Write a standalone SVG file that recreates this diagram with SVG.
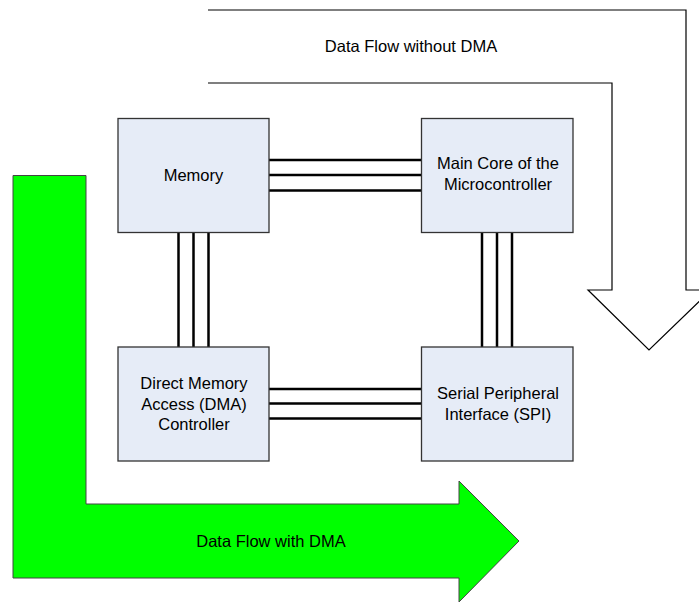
<svg xmlns="http://www.w3.org/2000/svg" width="699" height="603" viewBox="0 0 699 603">
  <style>
    .box { fill: #E6ECF7; stroke: #333; stroke-width: 1.3; }
    .bus { stroke: #000; stroke-width: 2.5; fill: none; }
    .lbl { font-family: "Liberation Sans", Arial, sans-serif; font-size: 16.5px; fill: #000; text-anchor: middle; }
  </style>
  <rect width="699" height="603" fill="#fff"/>

  <!-- Outline arrow: data flow without DMA -->
  <g id="flow-without-dma">
    <path d="M208,10 H686 V290 H711 L649,350 L588,290 H612 V83 H208" fill="#fff" stroke="#000" stroke-width="1.2"/>
    <text class="lbl" x="411" y="52">Data Flow without DMA</text>
  </g>

  <!-- Filled arrow: data flow with DMA -->
  <g id="flow-with-dma">
    <path d="M13,175.5 H86 V504 H459 V481 L519,541 L459,602 V578 H13 Z" fill="#00FF00" stroke="#444" stroke-width="1"/>
    <text class="lbl" x="271" y="547">Data Flow with DMA</text>
  </g>

  <!-- Bus connectors -->
  <g id="connectors">
    <path class="bus" d="M269,160 H421 M269,175 H421 M269,190.5 H421"/>
    <path class="bus" d="M269,389 H421 M269,403.5 H421 M269,418.5 H421"/>
    <path class="bus" d="M178.5,232 V347 M193.5,232 V347 M208.5,232 V347"/>
    <path class="bus" d="M482,232 V347 M497,232 V347 M512,232 V347"/>
  </g>

  <g id="memory">
    <rect class="box" x="118" y="118.5" width="151" height="114"/>
    <text class="lbl" x="193.5" y="181">Memory</text>
  </g>

  <g id="main-core">
    <rect class="box" x="421.5" y="118.5" width="151.5" height="114"/>
    <text class="lbl" x="498" y="168.5">Main Core of the</text>
    <text class="lbl" x="498" y="189.5">Microcontroller</text>
  </g>

  <g id="dma-controller">
    <rect class="box" x="118" y="347" width="151" height="114"/>
    <text class="lbl" x="194" y="388.5">Direct Memory</text>
    <text class="lbl" x="194" y="409.5">Access (DMA)</text>
    <text class="lbl" x="194" y="430">Controller</text>
  </g>

  <g id="spi">
    <rect class="box" x="421.5" y="347" width="151.5" height="114"/>
    <text class="lbl" x="498" y="398.5">Serial Peripheral</text>
    <text class="lbl" x="498" y="419.5">Interface (SPI)</text>
  </g>
</svg>
